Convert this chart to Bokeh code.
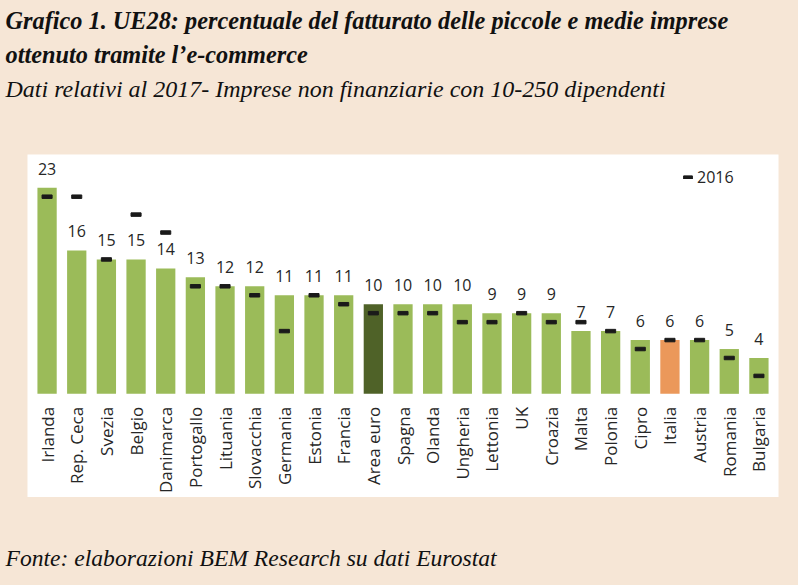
from math import pi
from bokeh.plotting import figure
from bokeh.layouts import column
from bokeh.models import ColumnDataSource, Label, Legend, LegendItem, Range1d, FactorRange
from bokeh.embed import file_html
from bokeh.resources import INLINE
from bokeh.core.properties import value

countries = ["Irlanda", "Rep. Ceca", "Svezia", "Belgio", "Danimarca", "Portogallo",
             "Lituania", "Slovacchia", "Germania", "Estonia", "Francia", "Area euro",
             "Spagna", "Olanda", "Ungheria", "Lettonia", "UK", "Croazia", "Malta",
             "Polonia", "Cipro", "Italia", "Austria", "Romania", "Bulgaria"]
v2017 = [23, 16, 15, 15, 14, 13, 12, 12, 11, 11, 11, 10, 10, 10, 10, 9, 9, 9, 7, 7, 6, 6, 6, 5, 4]
v2016 = [22, 22, 15, 20, 18, 12, 12, 11, 7, 11, 10, 9, 9, 9, 8, 8, 9, 8, 8, 7, 5, 6, 6, 4, 2]

title1 = "Grafico 1. UE28: percentuale del fatturato delle piccole e medie imprese"
title2 = "ottenuto tramite l\u2019e-commerce"
subtitle = "Dati relativi al 2017- Imprese non finanziarie con 10-250 dipendenti"
source_note = "Fonte: elaborazioni BEM Research su dati Eurostat"

BG = "#f6e6d6"
GREEN = "#9bbb59"
highlight = {"Area euro": "#4f6228", "Italia": "#eb985a"}
colors = [highlight.get(c, GREEN) for c in countries]

W = 798
TOP_H, MID_H, BOT_H = 154, 343, 88


def text_fig(height):
    f = figure(width=W, height=height, output_backend="svg", toolbar_location=None,
               x_range=Range1d(0, 1), y_range=Range1d(0, 1),
               x_axis_location=None, y_axis_location=None, frame_align=False,
               min_border_left=0, min_border_right=0, min_border_top=0, min_border_bottom=0)
    f.background_fill_color = BG
    f.border_fill_color = BG
    f.outline_line_color = None
    f.grid.visible = False
    return f


def lab(f, height, txt, x, y, size, style):
    # x, y: position of the text's left end and baseline, from the figure's top-left
    f.add_layout(Label(x=x, y=height - y, x_units="screen", y_units="screen", text=txt,
                       text_font="Liberation Serif", text_font_size=size, text_font_style=style,
                       text_color="#111111", text_baseline="alphabetic"))


top = text_fig(TOP_H)
lab(top, TOP_H, title1, 5, 20, "24.3px", "bold italic")
lab(top, TOP_H, title2, 5, 54, "24.3px", "bold italic")
lab(top, TOP_H, subtitle, 5, 88, "24px", "italic")

bot = text_fig(BOT_H)
lab(bot, BOT_H, source_note, 5, 60, "23.6px", "italic")

src = ColumnDataSource(dict(x=countries, top=v2017, prev=v2016, color=colors,
                            lab=[str(v) for v in v2017], zero=[0] * len(countries)))

FL, FR = 27, 20
p = figure(width=W, height=MID_H, output_backend="svg", toolbar_location=None,
           x_range=FactorRange(factors=countries, range_padding=0.16, range_padding_units="absolute"),
           y_range=Range1d(-11.57, 26.71), frame_align=False,
           x_axis_location=None, y_axis_location=None,
           min_border_left=FL, min_border_right=FR, min_border_top=0, min_border_bottom=0)
p.background_fill_color = "white"
p.border_fill_color = BG
p.outline_line_color = None
p.grid.visible = False

p.vbar(x="x", top="top", bottom=0, width=0.65, source=src, fill_color="color", line_color=None)

p.text(x="x", y="top", text="lab", source=src, y_offset=-19, text_align="center",
       text_baseline="middle", text_font=value("Open Sans"), text_font_size="16px",
       text_color="#262626")

p.text(x="x", y="zero", text="x", source=src, y_offset=13, angle=pi / 2, text_align="right",
       text_baseline="middle", text_font=value("Open Sans"), text_font_size="17px",
       text_color="#262626")

mk = p.rect(x="x", y="prev", source=src, width=0.34, height=3.5, height_units="screen",
            fill_color="#1a1a1a", line_color="#1a1a1a", line_width=1)

legend = Legend(items=[LegendItem(label="2016", renderers=[mk])], location=(655, 309),
                glyph_width=11, glyph_height=4, label_standoff=4, padding=0, margin=0,
                label_text_font="Open Sans", label_text_font_size="16px",
                label_text_color="#262626", background_fill_alpha=0, border_line_alpha=0)
p.add_layout(legend, "center")

layout = column(top, p, bot, spacing=0)

html = file_html(layout, INLINE)
html = html.replace("<head>", "<head><style>html,body{background:%s;}</style>" % BG, 1)
open("out.html", "w").write(html)
